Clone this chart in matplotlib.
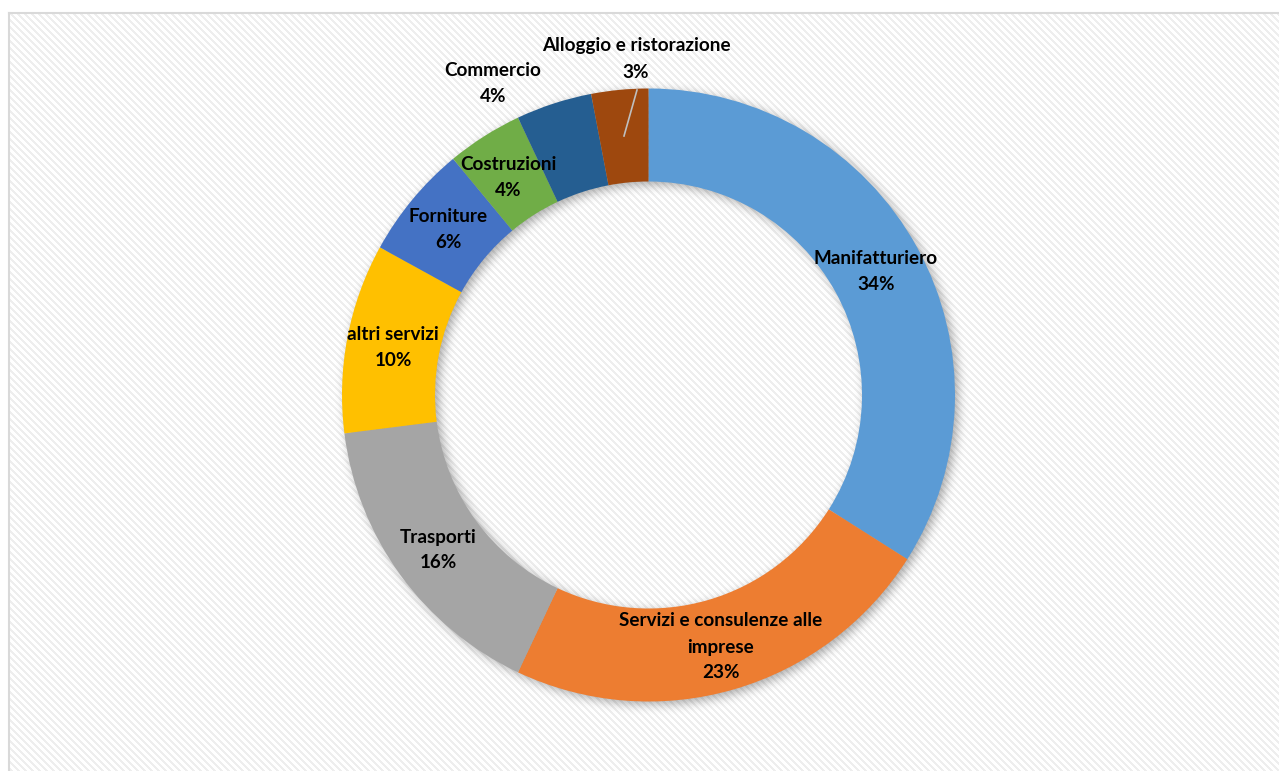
import numpy as np
import matplotlib
matplotlib.use("Agg")
import matplotlib.pyplot as plt

# Sector shares (percent), clockwise from 12 o'clock
sectors = ["Manifatturiero", "Servizi e consulenze alle\nimprese", "Trasporti",
           "altri servizi", "Forniture", "Costruzioni", "Commercio",
           "Alloggio e ristorazione"]
shares = [34, 23, 16, 10, 6, 4, 4, 3]
colors = ["#5B9BD5", "#ED7D31", "#A5A5A5", "#FFC000", "#4472C4",
          "#70AD47", "#255E91", "#9E480E"]

W, H = 1279, 771
fig = plt.figure(figsize=(W / 100, H / 100), dpi=100)
ax = fig.add_axes([0, 0, 1, 1])

cx, cy = 648.5, H - 395.0
r_out, ring = 306.5, 93.0

# Light diagonal texture inside the chart frame
fx, fy = 8, 12
rows, cols = np.mgrid[0:H - fy, 0:W - fx]
stripe = ((cols - rows) % 7) < 3
tex = np.where(stripe, 0.935, 1.0)
ax.imshow(np.dstack([tex, tex, tex]), extent=(fx, W, 0, H - fy), origin="upper",
          interpolation="nearest", zorder=0, aspect="auto")

# Soft drop shadow under the ring
pad = 360
gx = np.arange(cx - pad, cx + pad)
gy = np.arange(cy - pad, cy + pad)
XX, YY = np.meshgrid(gx, gy)
rr = np.hypot(XX - (cx + 2.5), YY - (cy - 3.5))
mask = ((rr <= r_out) & (rr >= r_out - ring)).astype(float)
sig = 5.0
k = np.arange(-18, 19)
kern = np.exp(-k ** 2 / (2 * sig ** 2))
kern /= kern.sum()
blur = np.apply_along_axis(lambda v: np.convolve(v, kern, mode="same"), 0, mask)
blur = np.apply_along_axis(lambda v: np.convolve(v, kern, mode="same"), 1, blur)
shadow = np.zeros(blur.shape + (4,))
shadow[..., 3] = 0.33 * blur
ax.imshow(shadow, extent=(gx[0], gx[-1] + 1, gy[0], gy[-1] + 1), origin="lower",
          interpolation="bilinear", zorder=1, aspect="auto")

wedges, _ = ax.pie(shares, colors=colors, startangle=90, counterclock=False,
                   radius=r_out, center=(cx, cy),
                   wedgeprops=dict(width=ring, linewidth=0))
for w in wedges:
    w.set_zorder(2)

# Chart frame (top and left edges)
ax.plot([fx + 0.5, fx + 0.5], [0, H - fy - 0.5], color="#d9d9d9", lw=1.5, zorder=3)
ax.plot([fx + 0.5, W], [H - fy - 0.5, H - fy - 0.5], color="#d9d9d9", lw=1.5, zorder=3)

# Data labels: name lines followed by the percentage
label_xy = [(876, 258), (721, 621), (438, 537), (393, 335),
            (448, 217), (508, 164), (493, 70), (636, 46)]
line_h = 26
for name, val, (lx, ly) in zip(sectors, shares, label_xy):
    lines = name.split("\n") + [f"{val}%"]
    for i, t in enumerate(lines):
        ax.text(lx, H - (ly + i * line_h), t, ha="center", va="center",
                fontsize=13.6, fontweight="bold", family="Lato", color="black",
                zorder=4)

# Leader line for the smallest slice
ax.plot([624, 637], [H - 136, H - 90], color="#bfbfbf", lw=1.2, zorder=4)

ax.set_xlim(0, W)
ax.set_ylim(0, H)
ax.set_aspect("auto")
ax.axis("off")
fig.savefig("out.png", dpi=100, facecolor="white")
